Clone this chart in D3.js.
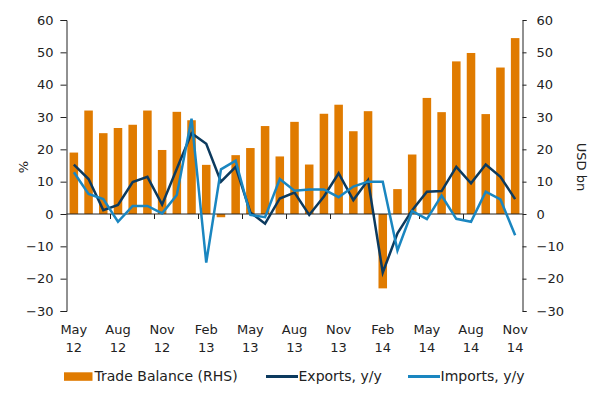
<!DOCTYPE html>
<html>
<head>
<meta charset="utf-8">
<script src="https://cdn.jsdelivr.net/npm/d3@7"></script>
<style>
  body { margin: 0; background: #fff; }
  text { font-family: "DejaVu Sans", Verdana, sans-serif; }
</style>
</head>
<body>
<div id="chart"></div>
<script>
// Data
const months = [
  "May 12", "Jun 12", "Jul 12", "Aug 12", "Sep 12", "Oct 12", "Nov 12", "Dec 12",
  "Jan 13", "Feb 13", "Mar 13", "Apr 13", "May 13", "Jun 13", "Jul 13", "Aug 13",
  "Sep 13", "Oct 13", "Nov 13", "Dec 13", "Jan 14", "Feb 14", "Mar 14", "Apr 14",
  "May 14", "Jun 14", "Jul 14", "Aug 14", "Sep 14", "Oct 14", "Nov 14"
];
const tradeBalance = [
  19, 32, 25, 26.6, 27.6, 32, 19.8, 31.6, 29, 15.2, -1, 18.2, 20.4, 27.2, 17.8, 28.5,
  15.3, 31, 33.8, 25.6, 31.8, -23, 7.7, 18.4, 35.9, 31.5, 47.2, 49.8, 30.9, 45.3, 54.4
];
const exportsYoY = [
  15.3, 10.8, 1.2, 2.8, 9.9, 11.5, 2.9, 14, 25, 21.7, 10, 14.6, 0.5, -3, 4.8, 6.6,
  -0.3, 5.4, 12.6, 4.3, 10.5, -18.1, -6, 1.2, 6.9, 7.1, 14.6, 9.5, 15.3, 11.5, 4.6
];
const importsYoY = [
  12.9, 6.2, 4.6, -2.4, 2.5, 2.5, 0.2, 5.9, 29.5, -15, 13.8, 16.5, -0.3, -1, 10.8, 7.2,
  7.6, 7.6, 5.2, 8.5, 10, 10, -11.3, 0.9, -1.6, 5.7, -1.5, -2.4, 6.9, 4.5, -6.6
];
const yTicks = [-30, -20, -10, 0, 10, 20, 30, 40, 50, 60];

// Dimensions
const dimensions = {
  width: 600,
  height: 398,
  left: 66.5,
  right: 522.5,
  top: 20,
  bottom: 311,
};

const colors = { bar: "#E07B00", exports: "#0C3A5E", imports: "#1A86C0", text: "#222" };

const svg = d3
  .select("#chart")
  .append("svg")
  .attr("width", dimensions.width)
  .attr("height", dimensions.height);

// Scales
const xScale = d3
  .scaleBand()
  .domain(months)
  .range([dimensions.left, dimensions.right])
  .paddingInner(0.42)
  .paddingOuter(0.21);

const yLeft = d3.scaleLinear().domain([-30, 60]).range([dimensions.bottom, dimensions.top]);
const yRight = d3.scaleLinear().domain([-30, 60]).range([dimensions.bottom, dimensions.top]);

const center = (m) => xScale(m) + xScale.bandwidth() / 2;

// Bars
svg
  .append("g")
  .selectAll("rect")
  .data(tradeBalance)
  .join("rect")
  .attr("x", (d, i) => xScale(months[i]))
  .attr("width", xScale.bandwidth())
  .attr("y", (d) => yRight(Math.max(0, d)))
  .attr("height", (d) => Math.abs(yRight(d) - yRight(0)))
  .attr("fill", colors.bar);

// Zero line
svg
  .append("line")
  .attr("x1", dimensions.left)
  .attr("x2", dimensions.right)
  .attr("y1", yLeft(0))
  .attr("y2", yLeft(0))
  .attr("stroke", "#222")
  .attr("stroke-width", 1);

// x ticks every 3 months, hanging down from zero line
const step = xScale.step();
svg
  .append("g")
  .selectAll("line")
  .data(months.filter((m, i) => i % 3 === 0 && i > 0))
  .join("line")
  .attr("x1", (m) => Math.round(center(m) - step / 2) - 0.5)
  .attr("x2", (m) => Math.round(center(m) - step / 2) - 0.5)
  .attr("y1", yLeft(0))
  .attr("y2", yLeft(0) + 5)
  .attr("stroke", "#222");

// Lines
const lineGenerator = d3
  .line()
  .x((d, i) => center(months[i]))
  .y((d) => yLeft(d));

svg
  .append("path")
  .datum(exportsYoY)
  .attr("d", lineGenerator)
  .attr("fill", "none")
  .attr("stroke", colors.exports)
  .attr("stroke-width", 2.5);

svg
  .append("path")
  .datum(importsYoY)
  .attr("d", lineGenerator)
  .attr("fill", "none")
  .attr("stroke", colors.imports)
  .attr("stroke-width", 2.5);

// Axes
const leftAxis = svg
  .append("g")
  .attr("transform", `translate(${dimensions.left},0)`)
  .call(d3.axisLeft(yLeft).tickValues(yTicks).tickSize(6).tickPadding(7).tickSizeOuter(6));

const rightAxis = svg
  .append("g")
  .attr("transform", `translate(${dimensions.right},0)`)
  .call(d3.axisRight(yRight).tickValues(yTicks).tickSize(4).tickPadding(10).tickSizeOuter(4));

[leftAxis, rightAxis].forEach((g) => {
  g.select(".domain").attr("stroke", "#222");
  g.selectAll(".tick line").attr("stroke", "#222");
  g.selectAll(".tick text")
    .attr("fill", colors.text)
    .style("font-size", "13px")
    .style("font-family", "'DejaVu Sans', Verdana, sans-serif");
});

// x labels
const xLabels = svg
  .append("g")
  .selectAll("text")
  .data(months.filter((m, i) => i % 3 === 0))
  .join("text")
  .attr("x", (m) => center(m))
  .attr("text-anchor", "middle")
  .attr("fill", colors.text)
  .style("font-size", "13px");

xLabels.append("tspan").attr("x", (m) => center(m)).attr("y", 334).text((m) => m.split(" ")[0]);
xLabels.append("tspan").attr("x", (m) => center(m)).attr("y", 352).text((m) => m.split(" ")[1]);

// Axis titles
svg
  .append("text")
  .attr("transform", "translate(23,167) rotate(-90)")
  .attr("text-anchor", "middle")
  .attr("dy", "0.35em")
  .attr("fill", colors.text)
  .style("font-size", "13px")
  .text("%");

svg
  .append("text")
  .attr("transform", "translate(582,167) rotate(90)")
  .attr("text-anchor", "middle")
  .attr("dy", "0.35em")
  .attr("fill", colors.text)
  .style("font-size", "13px")
  .text("USD bn");

// Legend
const legendY = 381;
const legend = svg.append("g").style("font-size", "14px");

legend
  .append("rect")
  .attr("x", 64)
  .attr("y", legendY - 8.7)
  .attr("width", 28.5)
  .attr("height", 8.5)
  .attr("fill", colors.bar);
legend.append("text").attr("x", 94.5).attr("y", legendY).attr("fill", colors.text).text("Trade Balance (RHS)");

legend
  .append("line")
  .attr("x1", 266)
  .attr("x2", 298)
  .attr("y1", legendY - 4.5)
  .attr("y2", legendY - 4.5)
  .attr("stroke", colors.exports)
  .attr("stroke-width", 3);
legend.append("text").attr("x", 298.5).attr("y", legendY).attr("fill", colors.text).text("Exports, y/y");

legend
  .append("line")
  .attr("x1", 408)
  .attr("x2", 440)
  .attr("y1", legendY - 4.5)
  .attr("y2", legendY - 4.5)
  .attr("stroke", colors.imports)
  .attr("stroke-width", 3);
legend.append("text").attr("x", 440.5).attr("y", legendY).attr("fill", colors.text).text("Imports, y/y");
</script>
</body>
</html>
